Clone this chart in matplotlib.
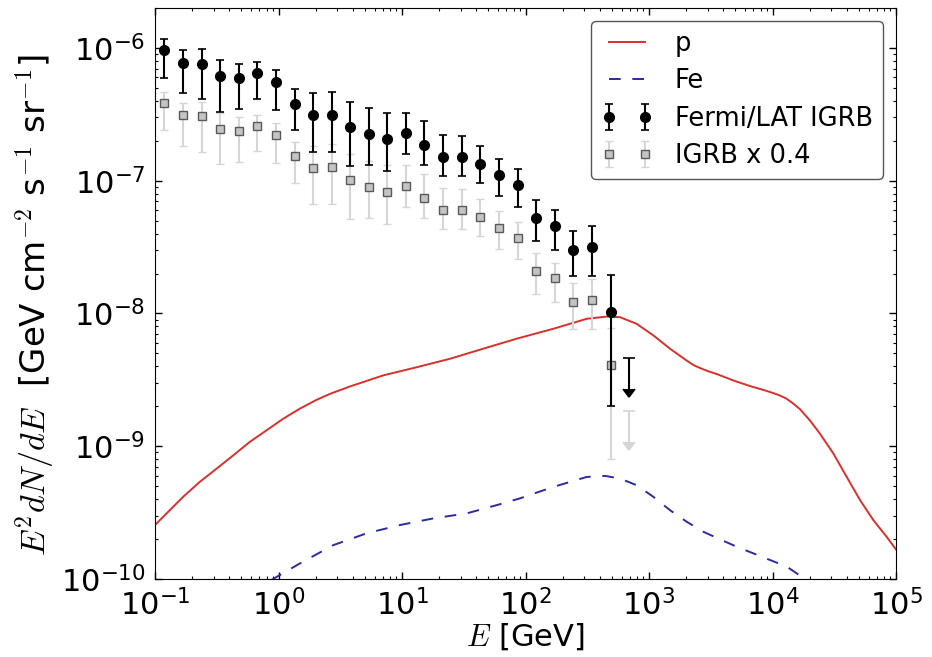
import matplotlib
matplotlib.use("Agg")
import matplotlib.pyplot as plt
import numpy as np

plt.rcParams['mathtext.fontset'] = 'cm'
plt.rcParams['font.family'] = ['DejaVu Sans']

# Fermi/LAT IGRB bin centres [GeV] and E^2 dN/dE with error range
E_igrb = [0.119, 0.168, 0.238, 0.336, 0.476, 0.673, 0.952, 1.35, 1.90, 2.69,
          3.81, 5.38, 7.62, 10.8, 15.2, 21.5, 30.5, 43.1, 60.9, 86.2,
          122, 172, 244, 345, 488]
F_igrb = [9.66e-7, 7.76e-7, 7.62e-7, 6.12e-7, 5.94e-7, 6.49e-7, 5.52e-7, 3.81e-7,
          3.12e-7, 3.15e-7, 2.52e-7, 2.25e-7, 2.06e-7, 2.28e-7, 1.85e-7, 1.51e-7,
          1.50e-7, 1.33e-7, 1.10e-7, 9.22e-8, 5.24e-8, 4.59e-8, 3.03e-8, 3.15e-8,
          1.02e-8]
F_hi = [1.16e-6, 9.60e-7, 9.77e-7, 8.07e-7, 7.53e-7, 7.85e-7, 6.80e-7, 4.89e-7,
        4.59e-7, 4.69e-7, 3.94e-7, 3.50e-7, 3.26e-7, 3.26e-7, 2.83e-7, 2.22e-7,
        2.17e-7, 1.83e-7, 1.47e-7, 1.22e-7, 7.19e-8, 6.05e-8, 4.21e-8, 4.53e-8,
        1.96e-8]
F_lo = [5.98e-7, 4.54e-7, 4.14e-7, 3.32e-7, 3.46e-7, 4.16e-7, 3.42e-7, 2.40e-7,
        1.66e-7, 1.66e-7, 1.28e-7, 1.31e-7, 1.19e-7, 1.58e-7, 1.31e-7, 1.08e-7,
        1.08e-7, 9.54e-8, 7.71e-8, 6.38e-8, 3.50e-8, 3.03e-8, 1.90e-8, 1.91e-8,
        2.01e-9]
# last bin is an upper limit (arrow from the limit down to F_ul_low)
E_ul = [690]
F_ul = [4.6e-9]
F_ul_low = [2.7e-9]
scale = 0.4

# model spectra
E_p = [0.1, 0.169, 0.231, 0.316, 0.431, 0.587, 0.802, 1.09, 1.49, 2.04, 2.61,
       3.79, 7.06, 13.2, 24.5, 45.5, 84.9, 168, 313, 454, 582, 794, 1084, 1479,
       2018, 2300, 2630, 3000, 3532, 4819, 6577, 8974, 11000, 12800, 14500,
       16710, 20140, 24270, 31120, 39900, 51170, 65460, 83950, 1e5]
F_p = [2.55e-10, 4.16e-10, 5.40e-10, 6.79e-10, 8.55e-10, 1.08e-9, 1.32e-9,
       1.61e-9, 1.92e-9, 2.24e-9, 2.48e-9, 2.82e-9, 3.42e-9, 3.94e-9, 4.56e-9,
       5.43e-9, 6.46e-9, 7.67e-9, 9.12e-9, 9.48e-9, 9.38e-9, 8.36e-9, 6.84e-9,
       5.43e-9, 4.42e-9, 4.08e-9, 3.86e-9, 3.68e-9, 3.50e-9, 3.13e-9, 2.84e-9,
       2.61e-9, 2.45e-9, 2.30e-9, 2.12e-9, 1.90e-9, 1.56e-9, 1.24e-9, 8.81e-10,
       5.87e-10, 3.93e-10, 2.78e-10, 2.08e-10, 1.67e-10]
E_fe = [0.87, 1.49, 2.78, 5.18, 9.64, 17.9, 33.4, 62.2, 90.2, 168, 313, 441, 582,
        794, 1084, 1479, 2018, 2754, 3758, 5129, 7000, 9550, 13030, 17780, 19950]
F_fe = [9.8e-11, 1.31e-10, 1.80e-10, 2.21e-10, 2.55e-10, 2.86e-10, 3.12e-10,
        3.66e-10, 4.05e-10, 4.94e-10, 5.87e-10, 5.98e-10, 5.71e-10, 5.09e-10,
        4.16e-10, 3.30e-10, 2.70e-10, 2.27e-10, 1.99e-10, 1.75e-10, 1.56e-10,
        1.39e-10, 1.24e-10, 1.02e-10, 9.3e-11]

E_igrb = np.array(E_igrb)
F_igrb = np.array(F_igrb)
yerr = np.array([F_igrb - np.array(F_lo), np.array(F_hi) - F_igrb])
E_ul = np.array(E_ul)
F_ul = np.array(F_ul)
ul_err = np.array([F_ul - np.array(F_ul_low), np.zeros(1)])

fig = plt.figure(figsize=(9.32, 6.57), dpi=100)
ax = fig.add_axes([155 / 932, 78 / 657, 741 / 932, 571 / 657])

ax.plot(E_p, F_p, color='#d8302c', lw=1.4, label='p')
ax.plot(E_fe, F_fe, color='#2c2c9c', lw=1.4, ls='--', dashes=(6, 6), label='Fe')

grey_face = '#c4c4c4'
grey_edge = '#5a5a5a'
grey_bar = '#d6d6d6'

ax.errorbar(E_igrb, F_igrb * scale, yerr=yerr * scale, fmt='s', ms=5.5,
            mfc=grey_face, mec=grey_edge, mew=1.0, ecolor=grey_bar,
            elinewidth=1.5, capsize=3, capthick=1.2, label='IGRB x 0.4', zorder=3)
ax.errorbar(E_ul, F_ul * scale, yerr=ul_err * scale, fmt='none', color=grey_bar,
            ecolor=grey_bar, elinewidth=1.5, capsize=4, capthick=1.2,
            uplims=True, zorder=3)

ax.errorbar(E_igrb, F_igrb, yerr=yerr, fmt='o', ms=7, color='k', mec='k',
            elinewidth=1.5, capsize=3, capthick=1.2, label='Fermi/LAT IGRB', zorder=4)
ax.errorbar(E_ul, F_ul, yerr=ul_err, fmt='none', color='k', ecolor='k',
            elinewidth=1.5, capsize=4, capthick=1.2, uplims=True, zorder=4)

ax.set_xscale('log')
ax.set_yscale('log')
ax.set_xlim(1e-1, 1e5)
ax.set_ylim(1e-10, 2e-6)

ax.tick_params(which='both', direction='in', top=True, right=True,
               labelsize=22, pad=7)
ax.tick_params(which='major', length=5, width=1)
ax.tick_params(which='minor', length=2.5, width=0.8)

ax.set_xlabel(r'$E$ [GeV]', fontsize=22, labelpad=0)
ax.set_ylabel(r'$E^2 dN/dE$  [GeV cm$^{-2}$ s$^{-1}$ sr$^{-1}$]', fontsize=24.5,
              labelpad=3)
ax.yaxis.label.set_y(0.48)

handles, labels = ax.get_legend_handles_labels()
order = [labels.index(l) for l in ['p', 'Fe', 'Fermi/LAT IGRB', 'IGRB x 0.4']]
leg = ax.legend([handles[i] for i in order], [labels[i] for i in order],
                loc='upper right', numpoints=2, fontsize=18.5, fancybox=True,
                framealpha=1, edgecolor='#555555', handlelength=2.0,
                handletextpad=0.85, borderpad=0.4, labelspacing=0.44)

fig.savefig('out.png', dpi=100, facecolor='white')
